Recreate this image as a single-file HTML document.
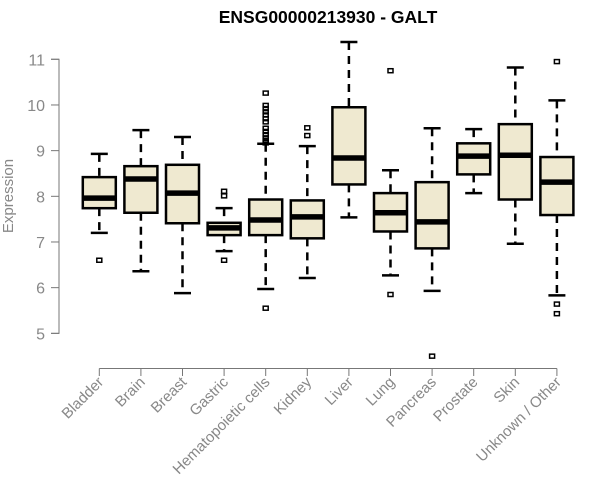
<!DOCTYPE html>
<html><head><meta charset="utf-8"><style>
body{margin:0;background:#fff}
svg{display:block}
text{font-family:"Liberation Sans",Arial,sans-serif}
</style></head><body>
<svg id="chart" width="600" height="500" viewBox="0 0 600 500" xmlns="http://www.w3.org/2000/svg">
<text x="328" y="23" text-anchor="middle" font-size="17.5" font-weight="bold" fill="#000">ENSG00000213930 - GALT</text>
<text transform="translate(13,196) rotate(-90)" text-anchor="middle" font-size="15" fill="#888">Expression</text>
<g id="axes"></g>
<g id="boxes"></g>
</svg>
<script>
const categories=["Bladder","Brain","Breast","Gastric","Hematopoietic cells","Kidney","Liver","Lung","Pancreas","Prostate","Skin","Unknown / Other"];
const whiskerLow=[7.2,6.36,5.88,6.80,5.97,6.21,7.54,6.27,5.93,8.07,6.96,5.83];
const q1=[7.74,7.64,7.41,7.15,7.15,7.08,8.26,7.23,6.86,8.48,7.93,7.59];
const medians=[7.96,8.38,8.07,7.31,7.48,7.55,8.84,7.64,7.44,8.88,8.90,8.31];
const q3=[8.42,8.66,8.69,7.42,7.93,7.91,9.95,8.07,8.31,9.16,9.58,8.86];
const whiskerHigh=[8.93,9.45,9.30,7.74,9.15,9.10,11.38,8.57,9.49,9.47,10.82,10.10];
const outliers=[[6.6],[],[],[8.11,8.01,6.6],[10.26,9.99,9.92,9.85,9.78,9.70,9.63,9.49,9.42,9.35,9.28,9.22,9.17,5.55],[9.50,9.33],[],[10.75,5.85],[4.50],[],[],[10.95,5.64,5.43]];
const yTicks=[5,6,7,8,9,10,11];
const NS="http://www.w3.org/2000/svg";
function y(v){return 59.3+(11-v)*45.67;}
function x(i){return 99.3+i*41.6;}
function mk(tag,attrs,parent){const e=document.createElementNS(NS,tag);for(const k in attrs)e.setAttribute(k,attrs[k]);parent.appendChild(e);return e;}
const axes=document.getElementById('axes'),boxes=document.getElementById('boxes');
const ya=mk('path',{d:`M51,${y(11)}H59V${y(5)}H51`,stroke:'#777',fill:'none','stroke-width':1},axes);


yTicks.forEach(t=>{
  const l=mk('line',{x1:51,x2:59,y1:y(t),y2:y(t),stroke:'#777'},axes);
  
  
  const tx=mk('text',{x:45,y:y(t)+6,'text-anchor':'end','font-size':16,fill:'#888'},axes);
  tx.textContent=t;
  
  
});
const xa=mk('line',{x1:x(0),x2:x(categories.length-1),y1:368.5,y2:368.5,stroke:'#777'},axes);


categories.forEach((c,i)=>{
  const cx=x(i);
  const t=mk('line',{x1:cx,x2:cx,y1:368.5,y2:376,stroke:'#777'},axes);
  
  
  const lab=mk('text',{transform:`translate(${cx+5},${383}) rotate(-45)`,'text-anchor':'end','font-size':15,fill:'#888'},axes);
  lab.textContent=c;
  
  
  const g=mk('g',{},boxes);
  
  
  mk('line',{x1:cx,x2:cx,y1:y(whiskerHigh[i]),y2:y(q3[i]),stroke:'#000','stroke-width':2.5,'stroke-dasharray':'8,6'},g);
  mk('line',{x1:cx,x2:cx,y1:y(q1[i]),y2:y(whiskerLow[i]),stroke:'#000','stroke-width':2.5,'stroke-dasharray':'8,6'},g);
  mk('line',{x1:cx-8.5,x2:cx+8.5,y1:y(whiskerHigh[i]),y2:y(whiskerHigh[i]),stroke:'#000','stroke-width':2.5},g);
  mk('line',{x1:cx-8.5,x2:cx+8.5,y1:y(whiskerLow[i]),y2:y(whiskerLow[i]),stroke:'#000','stroke-width':2.5},g);
  mk('rect',{x:cx-16.5,y:y(q3[i]),width:33,height:y(q1[i])-y(q3[i]),fill:'#efe9d0',stroke:'#000','stroke-width':2.5},g);
  mk('line',{x1:cx-16.5,x2:cx+16.5,y1:y(medians[i]),y2:y(medians[i]),stroke:'#000','stroke-width':5.5},g);
  outliers[i].forEach(o=>{
    const p=mk('rect',{x:cx-2.5,y:y(o)-2,width:5,height:4,fill:'none',stroke:'#000','stroke-width':1.5},g);
    
    
  });
});
</script>
</body></html>
